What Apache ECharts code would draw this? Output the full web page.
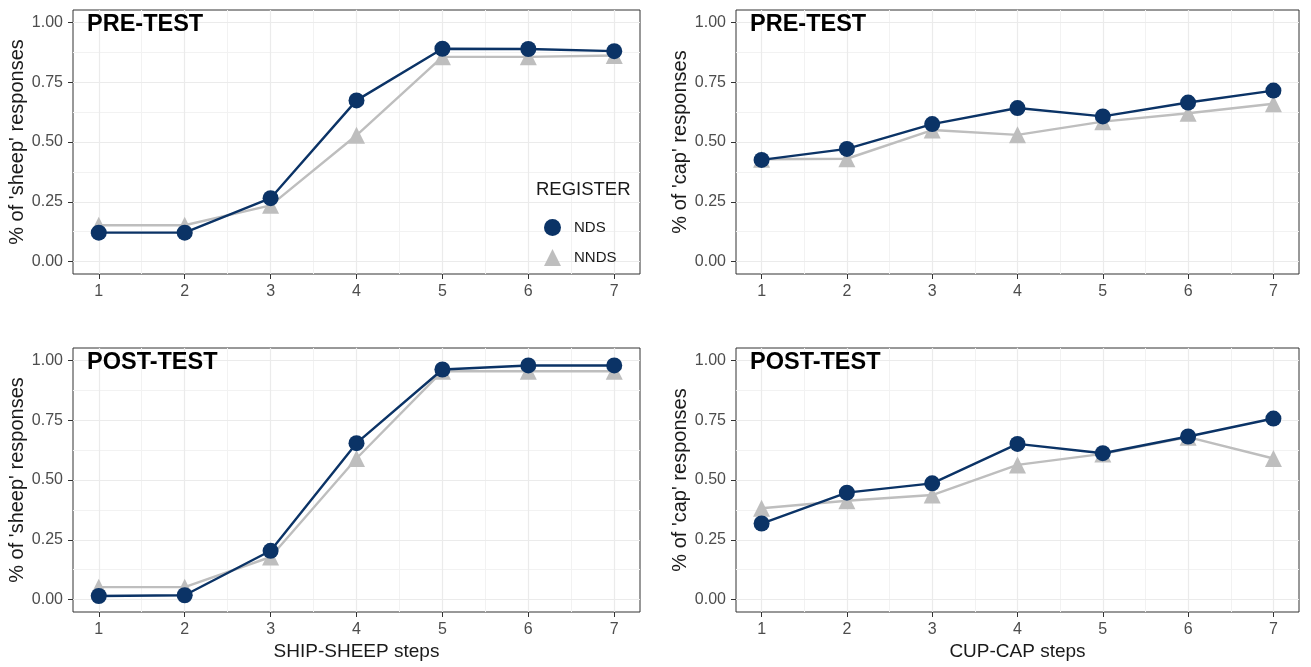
<!DOCTYPE html>
<html>
<head>
<meta charset="utf-8">
<script src="https://cdn.jsdelivr.net/npm/echarts@6/dist/echarts.min.js"></script>
<style>
html,body{margin:0;padding:0;background:#fff;}
#chart{width:1311px;height:667px;}
</style>
</head>
<body>
<div id="chart"></div>
<script>
// ---- data ----
const steps = [1, 2, 3, 4, 5, 6, 7];
const panelTitles = ['PRE-TEST', 'PRE-TEST', 'POST-TEST', 'POST-TEST'];
const yTitles = ["% of 'sheep' responses", "% of 'cap' responses", "% of 'sheep' responses", "% of 'cap' responses"];
const xTitles = ['', '', 'SHIP-SHEEP steps', 'CUP-CAP steps'];
const seriesNames = ['NDS', 'NNDS'];
const yTicks = [0, 0.25, 0.5, 0.75, 1];
const yMinorTicks = [0.125, 0.375, 0.625, 0.875];
const xMinorTicks = [1.5, 2.5, 3.5, 4.5, 5.5, 6.5];

const preShipNDS  = [0.121, 0.121, 0.265, 0.674, 0.890, 0.889, 0.880];
const preShipNNDS = [0.152, 0.152, 0.235, 0.528, 0.856, 0.856, 0.862];
const preCupNDS   = [0.425, 0.471, 0.575, 0.642, 0.607, 0.665, 0.715];
const preCupNNDS  = [0.428, 0.430, 0.550, 0.530, 0.585, 0.620, 0.660];
const postShipNDS  = [0.015, 0.018, 0.204, 0.654, 0.962, 0.979, 0.979];
const postShipNNDS = [0.052, 0.052, 0.178, 0.590, 0.955, 0.955, 0.955];
const postCupNDS   = [0.318, 0.447, 0.486, 0.651, 0.612, 0.682, 0.757];
const postCupNNDS  = [0.382, 0.413, 0.437, 0.563, 0.609, 0.679, 0.590];

const panelData = [
  [preShipNDS, preShipNNDS],
  [preCupNDS, preCupNNDS],
  [postShipNDS, postShipNNDS],
  [postCupNDS, postCupNNDS]
];

// ---- style ----
const NAVY = '#0b3366';
const GREY = '#bebebe';
const FONT = 'Liberation Sans, Arial, sans-serif';

const grids = [
  {left: 73, top: 10, width: 567, height: 264},
  {left: 736, top: 10, width: 563, height: 264},
  {left: 73, top: 348, width: 567, height: 264},
  {left: 736, top: 348, width: 563, height: 264}
];

const xAxes = [], yAxes = [], series = [], graphics = [];
grids.forEach((g, i) => {
  g.show = true; g.borderColor = '#333333'; g.borderWidth = 1; g.backgroundColor = 'transparent';
  g.containLabel = false;
  // main x axis
  xAxes.push({
    type: 'value', gridIndex: i, min: 0.7, max: 7.3, position: 'bottom',
    name: xTitles[i], nameLocation: 'middle', nameGap: 30,
    nameTextStyle: {fontFamily: FONT, fontSize: 19, color: '#1a1a1a'},
    axisLine: {show: false, onZero: false},
    axisTick: {show: true, inside: false, length: 5, lineStyle: {color: '#333333', width: 1}, customValues: steps},
    axisLabel: {show: true, customValues: steps, margin: 10, color: '#4d4d4d', fontFamily: FONT, fontSize: 16},
    splitLine: {show: true, lineStyle: {color: '#ebebeb', width: 1.2}},
    z: 1
  });
  // minor x axis
  xAxes.push({
    type: 'value', gridIndex: i, min: 0.7, max: 7.3, position: 'bottom',
    axisLine: {show: false, onZero: false},
    axisTick: {show: false, customValues: xMinorTicks},
    axisLabel: {show: false, customValues: xMinorTicks},
    splitLine: {show: true, lineStyle: {color: '#f2f2f2', width: 1}},
    z: 0
  });
  yAxes.push({
    type: 'value', gridIndex: i, min: -0.052, max: 1.052, position: 'left',
    name: yTitles[i], nameLocation: 'middle', nameGap: 46, nameRotate: 90,
    nameTextStyle: {fontFamily: FONT, fontSize: 20, color: '#1a1a1a'},
    axisLine: {show: false, onZero: false},
    axisTick: {show: true, inside: false, length: 5, lineStyle: {color: '#333333', width: 1}, customValues: yTicks},
    axisLabel: {show: true, customValues: yTicks, margin: 10, color: '#4d4d4d', fontFamily: FONT, fontSize: 16,
      formatter: v => Number(v).toFixed(2)},
    splitLine: {show: true, lineStyle: {color: '#ebebeb', width: 1.2}},
    z: 1
  });
  yAxes.push({
    type: 'value', gridIndex: i, min: -0.052, max: 1.052, position: 'left',
    axisLine: {show: false, onZero: false},
    axisTick: {show: false, customValues: yMinorTicks},
    axisLabel: {show: false, customValues: yMinorTicks},
    splitLine: {show: true, lineStyle: {color: '#f2f2f2', width: 1}},
    z: 0
  });

  const [nds, nnds] = panelData[i];
  series.push({
    name: seriesNames[1], type: 'line', xAxisIndex: 2 * i, yAxisIndex: 2 * i,
    data: steps.map((s, k) => [s, nnds[k]]),
    symbol: 'triangle', symbolSize: 17, showSymbol: true,
    lineStyle: {color: GREY, width: 2.4}, itemStyle: {color: GREY},
    emphasis: {disabled: true}, z: 3, animation: false
  });
  series.push({
    name: seriesNames[0], type: 'line', xAxisIndex: 2 * i, yAxisIndex: 2 * i,
    data: steps.map((s, k) => [s, nds[k]]),
    symbol: 'circle', symbolSize: 16, showSymbol: true,
    lineStyle: {color: NAVY, width: 2.4}, itemStyle: {color: NAVY},
    emphasis: {disabled: true}, z: 4, animation: false
  });

  graphics.push({
    type: 'text', left: g.left + 14, top: g.top + 3, z: 10,
    style: {text: panelTitles[i], font: 'bold 23.5px ' + FONT, fill: '#000'}
  });
});

graphics.push({
  type: 'text', left: 536, top: 180, z: 10,
  style: {text: 'REGISTER', font: '18.5px ' + FONT, fill: '#1a1a1a'}
});

const chart = echarts.init(document.getElementById('chart'), null, {renderer: 'canvas'});
chart.setOption({
  animation: false,
  backgroundColor: '#ffffff',
  grid: grids,
  xAxis: xAxes,
  yAxis: yAxes,
  legend: {
    orient: 'vertical', left: 539, top: 214,
    itemWidth: 17, itemHeight: 17, itemGap: 13,
    data: [{name: 'NDS', icon: 'circle'}, {name: 'NNDS', icon: 'triangle'}],
    textStyle: {fontFamily: FONT, fontSize: 15, color: '#1a1a1a', padding: [0, 0, 0, 8]},
    selectedMode: false
  },
  graphic: graphics,
  series: series
});
</script>
</body>
</html>
